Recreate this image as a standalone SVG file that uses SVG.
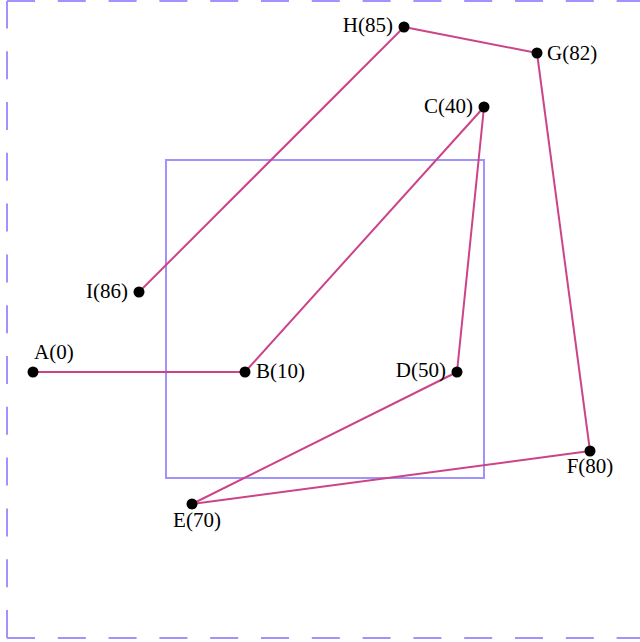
<svg xmlns="http://www.w3.org/2000/svg" width="640" height="642" viewBox="0 0 640 642">
  <style>
    .frame { fill: none; stroke: #a193ff; stroke-width: 2; stroke-dasharray: 28 22.8; }
    .box { fill: none; stroke: #a193ff; stroke-width: 2; }
    .edge { stroke: #cc4488; stroke-width: 2; fill: none; }
    .dot { fill: #000; }
    .lbl { font-family: "Liberation Serif", "Times New Roman", serif; font-size: 21px; fill: #000; }
  </style>
  <rect width="640" height="642" fill="#fff"/>

  <!-- outer dashed frame -->
  <g id="frame">
    <line class="frame" x1="7" y1="638" x2="7" y2="1"/>
    <line class="frame" x1="7" y1="1" x2="640" y2="1"/>
    <line class="frame" x1="7" y1="638" x2="640" y2="638"/>
  </g>

  <!-- inner square -->
  <rect id="box" class="box" x="166" y="160" width="318" height="318"/>

  <!-- connectors -->
  <g id="edges">
    <line class="edge" x1="33" y1="372" x2="245" y2="372"/>
    <line class="edge" x1="245" y1="372" x2="484" y2="107"/>
    <line class="edge" x1="484" y1="107" x2="457" y2="372"/>
    <line class="edge" x1="457" y1="372" x2="192" y2="504"/>
    <line class="edge" x1="192" y1="504" x2="590" y2="451"/>
    <line class="edge" x1="590" y1="451" x2="537" y2="53"/>
    <line class="edge" x1="537" y1="53" x2="404" y2="27"/>
    <line class="edge" x1="404" y1="27" x2="139" y2="292"/>
  </g>

  <!-- nodes -->
  <g id="A"><circle class="dot" cx="33" cy="372" r="5.5"/><text class="lbl" x="34" y="359">A(0)</text></g>
  <g id="B"><circle class="dot" cx="245" cy="372" r="5.5"/><text class="lbl" x="256" y="378">B(10)</text></g>
  <g id="C"><circle class="dot" cx="484" cy="107" r="5.5"/><text class="lbl" x="473" y="113" text-anchor="end">C(40)</text></g>
  <g id="D"><circle class="dot" cx="457" cy="372" r="5.5"/><text class="lbl" x="446" y="377" text-anchor="end">D(50)</text></g>
  <g id="E"><circle class="dot" cx="192" cy="504" r="5.5"/><text class="lbl" x="197" y="527" text-anchor="middle">E(70)</text></g>
  <g id="F"><circle class="dot" cx="590" cy="451" r="5.5"/><text class="lbl" x="590" y="473" text-anchor="middle">F(80)</text></g>
  <g id="G"><circle class="dot" cx="537" cy="53" r="5.5"/><text class="lbl" x="547" y="60">G(82)</text></g>
  <g id="H"><circle class="dot" cx="404" cy="27" r="5.5"/><text class="lbl" x="393" y="32" text-anchor="end">H(85)</text></g>
  <g id="I"><circle class="dot" cx="139" cy="292" r="5.5"/><text class="lbl" x="128" y="298" text-anchor="end">I(86)</text></g>
</svg>
